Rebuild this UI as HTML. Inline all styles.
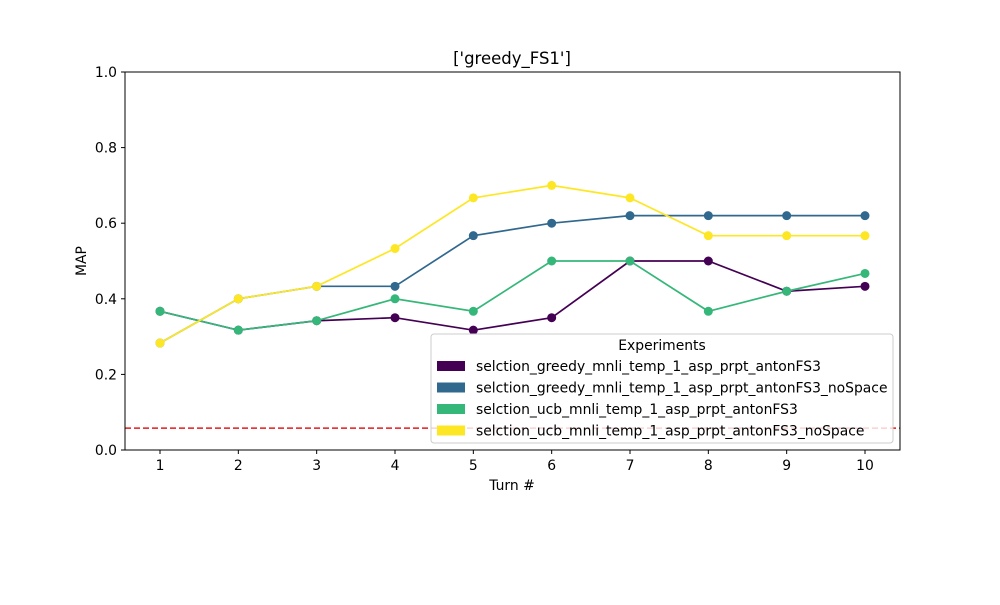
<!DOCTYPE html>
<html><head><meta charset="utf-8"><style>
body{margin:0;background:#fff}
svg text{font-family:"DejaVu Sans","Liberation Sans",sans-serif;fill:#000}
</style></head><body>
<svg id="c" width="1000" height="600"></svg>
<script>
const turns=[1,2,3,4,5,6,7,8,9,10];
const seriesNames=["selction_greedy_mnli_temp_1_asp_prpt_antonFS3","selction_greedy_mnli_temp_1_asp_prpt_antonFS3_noSpace","selction_ucb_mnli_temp_1_asp_prpt_antonFS3","selction_ucb_mnli_temp_1_asp_prpt_antonFS3_noSpace"];
const greedyVals=[0.367,0.317,0.342,0.35,0.317,0.35,0.5,0.5,0.42,0.433];
const greedyNoSpaceVals=[0.283,0.4,0.433,0.433,0.567,0.6,0.62,0.62,0.62,0.62];
const ucbVals=[0.367,0.317,0.342,0.4,0.367,0.5,0.5,0.367,0.42,0.467];
const ucbNoSpaceVals=[0.283,0.4,0.433,0.533,0.667,0.7,0.667,0.567,0.567,0.567];
const yTicks=[0,0.2,0.4,0.6,0.8,1.0];
const baseline=0.058;
const colors=["#440154","#31688e","#35b779","#fde725"];
const allVals=[greedyVals,greedyNoSpaceVals,ucbVals,ucbNoSpaceVals];
const L=125,R=900,T=72,B=450;
const xs=v=>160+(v-1)*(865-160)/9;
const ys=v=>B-v*(B-T);
const svg=document.getElementById('c');
const NS="http://www.w3.org/2000/svg";
function mk(tag,attrs,parent){const e=document.createElementNS(NS,tag);for(const k in attrs)e.setAttribute(k,attrs[k]);(parent||svg).appendChild(e);return e;}
let t=mk('text',{x:512,y:64,'text-anchor':'middle','font-size':16.5});t.textContent="['greedy_FS1']";


yTicks.forEach(v=>{const y=ys(v);
 let l=mk('line',{x1:L-4,x2:L,y1:y,y2:y,stroke:'#000'});
 
 
 let tx=mk('text',{x:L-8,y:y+5,'text-anchor':'end','font-size':13.9});tx.textContent=v.toFixed(1);
 
 });
turns.forEach(v=>{const x=xs(v);
 let l=mk('line',{x1:x,x2:x,y1:B,y2:B+4,stroke:'#000'});
 
 
 let tx=mk('text',{x:x,y:B+20,'text-anchor':'middle','font-size':13.9});tx.textContent=v;
 
 });
t=mk('text',{x:512,y:490,'text-anchor':'middle','font-size':13.9});t.textContent='Turn #';


t=mk('text',{x:86,y:261,'text-anchor':'middle','font-size':13.9,transform:'rotate(-90 86 261)'});t.textContent='MAP';


allVals.forEach((vals,i)=>{
 const g=mk('g',{});
 
 
 mk('polyline',{points:vals.map((v,j)=>xs(turns[j])+','+ys(v)).join(' '),fill:'none',stroke:colors[i],'stroke-width':1.7},g);
 vals.forEach((v,j)=>{const c=mk('circle',{cx:xs(turns[j]),cy:ys(v),r:4.5,fill:colors[i]},g);
  
  });
});
let bl=mk('line',{x1:L,x2:R,y1:ys(baseline),y2:ys(baseline),stroke:'#e41a1c','stroke-width':1.5,'stroke-dasharray':'6,3'});


let fr=mk('rect',{x:L,y:T,width:R-L,height:B-T,fill:'none',stroke:'#000'});


const lg=mk('g',{});


mk('rect',{x:431,y:334,width:462,height:109,rx:3,fill:'#fff','fill-opacity':0.8,stroke:'#ccc'},lg);
t=mk('text',{x:662,y:350,'text-anchor':'middle','font-size':13.9},lg);t.textContent='Experiments';
seriesNames.forEach((n,i)=>{const y=366+i*21.5;
 const e=mk('g',{},lg);
 
 
 mk('rect',{x:437,y:y-5,width:28,height:10,fill:colors[i]},e);
 const tx=mk('text',{x:476,y:y+5,'font-size':13.9},e);tx.textContent=n;});
</script>
</body></html>
